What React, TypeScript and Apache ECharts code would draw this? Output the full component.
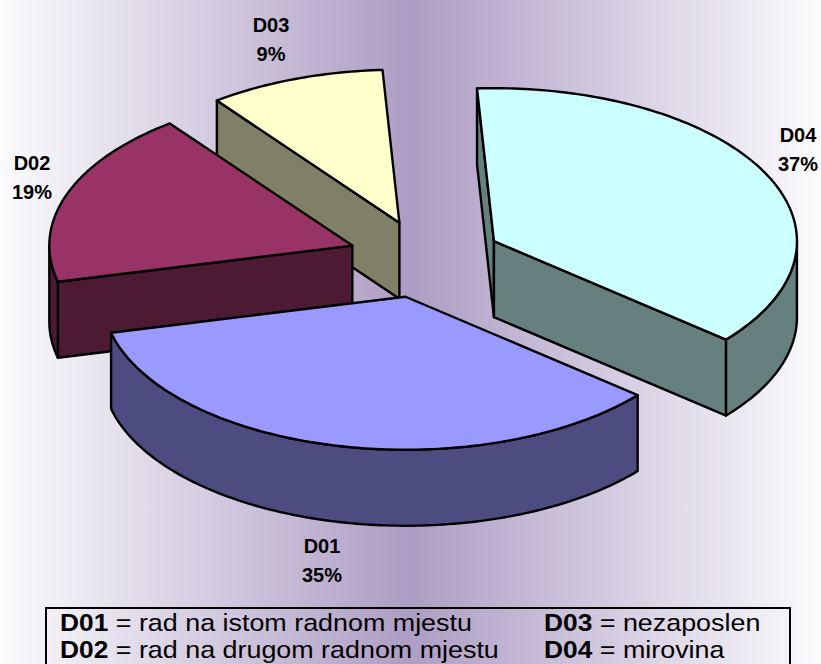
import React, { useEffect, useRef } from "react";
import * as echarts from "echarts";

const categories = ["D01", "D02", "D03", "D04"];
const percents = [35.1, 18.5, 9.4, 37];
const topColors = ["#9999FF", "#993366", "#FFFFCC", "#CCFFFF"];
const wallColors = ["#4C4C80", "#4D1A33", "#808066", "#668080"];
const legendRows = [
  ["D01", " = rad na istom radnom mjestu", "D03", " = nezaposlen"],
  ["D02", " = rad na drugom radnom mjestu", "D04", " = mirovina"],
];

// Pie layout (pixels)
const W = 821, H = 664;
const CX = 423.5, CY = 259, RX = 303, RY = 153, DEPTH = 76, EXPLODE = 0.26;
const START_DEG = 130; // clockwise from 12 o'clock, where D01 starts
const DRAW_RANK = [3, 1, 0, 2];
const NUDGE = [[0, -1], [3, 0], [3, 1], [0, 0]];
const LABEL_POS = [[322, 546], [32, 163], [271, 25], [798, 135]];
const LABEL_GAP = 29;

const rad = (d: number) => (d * Math.PI) / 180;
const onEllipse = (ox: number, oy: number, deg: number, drop = 0): number[] => [
  ox + RX * Math.sin(rad(deg)),
  oy - RY * Math.cos(rad(deg)) + drop,
];
const arcPoints = (ox: number, oy: number, a: number, b: number, drop = 0) => {
  const pts: number[][] = [];
  const n = Math.max(2, Math.ceil(b - a));
  for (let i = 0; i <= n; i++) pts.push(onEllipse(ox, oy, a + ((b - a) * i) / n, drop));
  return pts;
};

const renderSlice = (params: any) => {
  const i = params.dataIndex;
  const total = percents.reduce((s, v) => s + v, 0);
  let a0 = START_DEG;
  for (let k = 0; k < i; k++) a0 += (percents[k] / total) * 360;
  const a1 = a0 + (percents[i] / total) * 360;
  const mid = (a0 + a1) / 2;
  const ox = CX + EXPLODE * RX * Math.sin(rad(mid)) + NUDGE[i][0];
  const oy = CY - EXPLODE * RY * Math.cos(rad(mid)) + NUDGE[i][1];
  const z = DRAW_RANK[i] * 10;
  const children: any[] = [];
  const poly = (points: number[][], fill: string, z2: number) => ({
    type: "polygon",
    z2,
    shape: { points },
    style: { fill, stroke: "#000", lineWidth: 2.4, lineJoin: "round" },
  });
  const radialWall = (deg: number) => {
    const p = onEllipse(ox, oy, deg);
    return [[ox, oy], p, [p[0], p[1] + DEPTH], [ox, oy + DEPTH]];
  };
  // walls that face the viewer
  if (Math.sin(rad(a0)) < 0) children.push(poly(radialWall(a0), wallColors[i], z + 1));
  if (Math.sin(rad(a1)) > 0) children.push(poly(radialWall(a1), wallColors[i], z + 1));
  // outer wall: only the part on the front half of the rim
  for (const shift of [0, 360]) {
    const s = Math.max(a0 - shift, 90);
    const e = Math.min(a1 - shift, 270);
    if (e > s) {
      const front = arcPoints(ox, oy, s, e);
      const back = arcPoints(ox, oy, s, e, DEPTH).reverse();
      children.push(poly(front.concat(back), wallColors[i], z + 2));
    }
  }
  // top face
  children.push(poly([[ox, oy], ...arcPoints(ox, oy, a0, a1)], topColors[i], z + 3));
  return { type: "group", children };
};

const labelGraphics = categories.flatMap((name, i) =>
  [name, Math.round(percents[i]) + "%"].map((t, j) => ({
    type: "text",
    x: LABEL_POS[i][0],
    y: LABEL_POS[i][1] + j * LABEL_GAP,
    z: 10,
    style: {
      text: t,
      fill: "#000",
      font: "bold 20px 'Liberation Sans', Arial, sans-serif",
      textAlign: "center",
      textVerticalAlign: "middle",
    },
  }))
);

const legendGraphics = legendRows.flatMap((row, r) =>
  [0, 2].map((c) => ({
    type: "text",
    x: c === 0 ? 60 : 544,
    y: 623 + r * 27,
    scaleX: 1.12,
    z: 10,
    style: {
      text: `{b|${row[c]}}{n|${row[c + 1]}}`,
      textVerticalAlign: "middle",
      rich: {
        b: { font: "bold 23.5px 'Liberation Sans', Arial, sans-serif", fill: "#000" },
        n: { font: "24px 'Liberation Sans', Arial, sans-serif", fill: "#000" },
      },
    },
  }))
);

export default function App() {
  const ref = useRef<HTMLDivElement>(null);
  useEffect(() => {
    document.body.style.margin = "0";
    const chart = echarts.init(ref.current!, null, { renderer: "svg" });
    chart.setOption({
      animation: false,
      backgroundColor: new echarts.graphic.LinearGradient(0, 0, 1, 0, [
        { offset: 0, color: "#FBFBFD" },
        { offset: 0.5, color: "#AE9DC4" },
        { offset: 1, color: "#FBFBFD" },
      ]),
      series: [
        {
          type: "custom",
          coordinateSystem: "none",
          silent: true,
          renderItem: renderSlice,
          data: categories.map((name, i) => ({ name, value: percents[i] })),
        },
      ],
      graphic: [
        ...labelGraphics,
        ...legendGraphics,
        {
          type: "rect",
          z: 9,
          shape: { x: 46, y: 608, width: 744, height: 80 },
          style: { fill: "transparent", stroke: "#000", lineWidth: 2 },
        },
      ],
    });
    return () => chart.dispose();
  }, []);
  return <div ref={ref} style={{ width: W, height: H }} />;
}
